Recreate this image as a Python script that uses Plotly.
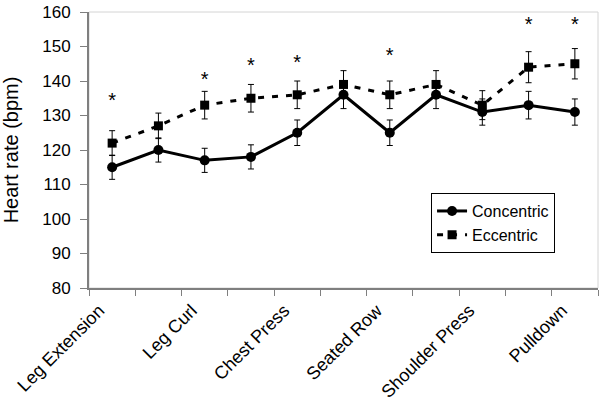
import plotly.graph_objects as go

# ---- data ----
positions = list(range(1, 12))
label_positions = [1, 3, 5, 7, 9, 11]
tick_labels = ["Leg Extension", "Leg Curl", "Chest Press", "Seated Row", "Shoulder Press", "Pulldown"]

concentric = [115, 120, 117, 118, 125, 136, 125, 136, 131, 133, 131]
concentric_err = [3.5, 3.5, 3.5, 3.5, 3.7, 4, 3.7, 4, 3.8, 4, 3.8]
eccentric = [122, 127, 133, 135, 136, 139, 136, 139, 133, 144, 145]
eccentric_err = [3.6, 3.7, 4, 4, 4, 4, 4, 4, 4.2, 4.5, 4.4]

sig_positions = [1, 3, 4, 5, 7, 10, 11]
sig_y = [134, 140, 144, 145, 147, 156, 156]

FONT = "Liberation Sans, Arial, sans-serif"

fig = go.Figure()

fig.add_trace(go.Scatter(
    x=positions, y=concentric, name="Concentric", mode="lines+markers",
    line=dict(color="black", width=3),
    marker=dict(symbol="circle", size=10, color="black"),
    error_y=dict(type="data", array=concentric_err, color="black", thickness=1, width=3),
))
fig.add_trace(go.Scatter(
    x=positions, y=eccentric, name="Eccentric", mode="lines+markers",
    line=dict(color="black", width=3, dash="6px,8px"),
    marker=dict(symbol="square", size=9, color="black"),
    error_y=dict(type="data", array=eccentric_err, color="black", thickness=1, width=3),
))
fig.add_trace(go.Scatter(
    x=sig_positions, y=sig_y, mode="text", text=["*"] * len(sig_positions),
    textfont=dict(family=FONT, size=20, color="black"),
    showlegend=False, hoverinfo="skip",
))

# light plot-area border
fig.add_shape(type="rect", xref="paper", yref="paper", x0=0, x1=1, y0=0, y1=1,
              line=dict(color="#d4d4d4", width=1), layer="below")

fig.update_layout(
    width=601, height=404,
    margin=dict(l=89, r=3, t=12, b=116),
    paper_bgcolor="white", plot_bgcolor="white",
    font=dict(family=FONT, size=17, color="black"),
    showlegend=True,
    legend=dict(
        x=0.672, y=0.344, xanchor="left", yanchor="top",
        bgcolor="white", bordercolor="black", borderwidth=1,
        font=dict(family=FONT, size=16, color="black"),
        tracegroupgap=0, itemwidth=30,
    ),
)

fig.update_xaxes(
    range=[0.5, 11.5], automargin=False,
    tickmode="array", tickvals=label_positions, ticktext=tick_labels,
    tickangle=-45, ticks="", showgrid=False, zeroline=False,
    showline=True, linecolor="#7f7f7f", linewidth=2,
    tickfont=dict(family=FONT, size=18, color="black"),
    ticklabelstandoff=3, ticklabelshift=-13,
    minor=dict(tickmode="linear", tick0=0.5, dtick=1, ticks="outside",
               ticklen=6, tickcolor="#7f7f7f", tickwidth=1, showgrid=False),
)
fig.update_yaxes(
    range=[80, 160], dtick=10, ticks="outside", ticklen=7, tickcolor="#7f7f7f",
    automargin=False,
    showgrid=False, zeroline=False, showline=True, linecolor="#7f7f7f", linewidth=2,
    tickfont=dict(family=FONT, size=17, color="black"),
    ticklabelstandoff=6,
    title=dict(text="Heart rate (bpm)", font=dict(family=FONT, size=20, color="black"), standoff=32),
)

fig.write_html("out.html", config={"displayModeBar": False},
               post_script="document.body.style.margin='0px';")
